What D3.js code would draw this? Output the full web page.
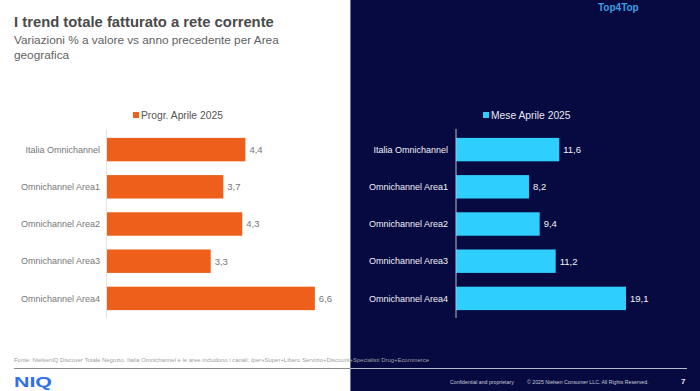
<!DOCTYPE html>
<html><head><meta charset="utf-8">
<script src="https://cdn.jsdelivr.net/npm/d3@7"></script>
<style>
html,body{margin:0;padding:0;background:#fff;}
svg{display:block;font-family:"Liberation Sans",Arial,sans-serif;}
</style></head>
<body><svg id="c" width="700" height="391"></svg>
<script>
const categories = ["Italia Omnichannel","Omnichannel Area1","Omnichannel Area2","Omnichannel Area3","Omnichannel Area4"];
const progrValues = [4.4, 3.7, 4.3, 3.3, 6.6];
const meseValues = [11.6, 8.2, 9.4, 11.2, 19.1];
const seriesNames = ["Progr. Aprile 2025", "Mese Aprile 2025"];
const title = "I trend totale fatturato a rete corrente";
const subtitleLines = ["Variazioni % a valore vs anno precedente per Area", "geografica"];
const sourceText = "Fonte: NielsenIQ Discover Totale Negozio. Italia Omnichannel e le aree includono i canali: Iper+Super+Libero Servizio+Discount+Specialisti Drug+Ecommerce";

const fmt = v => d3.format(".1f")(v).replace(".", ",");
const svg = d3.select("#c");

// dark right panel
svg.append("rect").attr("x",350).attr("y",0).attr("width",350).attr("height",391).attr("fill","#060a40");
svg.append("line").attr("x1",350.5).attr("x2",350.5).attr("y1",0).attr("y2",391).attr("stroke","#6c6f9a").attr("stroke-width",1);

// titles
svg.append("text").attr("x",14).attr("y",27).attr("font-size",14.8).attr("font-weight","bold").attr("fill","#4a4a4a").text(title);
subtitleLines.forEach((t,i)=>svg.append("text").attr("x",14).attr("y",44+i*14.5).attr("font-size",11.8).attr("fill","#5f5f5f").text(t));
svg.append("text").attr("x",598).attr("y",11).attr("font-size",10).attr("font-weight","bold").attr("fill","#3a9ee0").text("Top4Top");

function panel(values, name, xRange, domainMax, axisX, labelX, color, textColor, labelColor, axisColor, legendX){
  const y = d3.scaleBand().domain(categories).range([131,317]).paddingInner(0.37).paddingOuter(0.185);
  const x = d3.scaleLinear().domain([0,domainMax]).range(xRange);
  const g = svg.append("g");
  // legend
  g.append("rect").attr("x",legendX).attr("y",112).attr("width",6).attr("height",6).attr("fill",color);
  g.append("text").attr("x",legendX+8).attr("y",119).attr("font-size",10.3).attr("fill",textColor).text(name);
  // bars
  g.selectAll("rect.bar").data(values).join("rect").attr("class","bar")
    .attr("x",x(0)).attr("y",(d,i)=>y(categories[i])).attr("width",d=>x(d)-x(0)).attr("height",y.bandwidth()).attr("fill",color);
  // axis line
  g.append("line").attr("x1",axisX).attr("x2",axisX).attr("y1",129).attr("y2",318).attr("stroke",axisColor).attr("stroke-width",1);
  // category labels
  g.selectAll("text.cat").data(categories).join("text").attr("class","cat")
    .attr("x",labelX).attr("y",d=>y(d)+y.bandwidth()/2+3.2).attr("text-anchor","end").attr("font-size",9).attr("fill",labelColor).text(d=>d);
  // value labels
  g.selectAll("text.val").data(values).join("text").attr("class","val")
    .attr("x",d=>x(d)+4).attr("y",(d,i)=>y(categories[i])+y.bandwidth()/2+3.3).attr("font-size",9.5).attr("fill",labelColor).text(d=>fmt(d));
}
panel(progrValues, seriesNames[0], [106.5,327.5], 7, 106.5, 100, "#ee5f1b", "#555555", "#777777", "#e3e3e3", 133);
panel(meseValues, seriesNames[1], [456,634], 20, 456, 448, "#2ecfff", "#e8e8f2", "#f2f2f7", "#b9bbd0", 483);

// footer
svg.append("text").attr("x",14).attr("y",362).attr("font-size",5.8).attr("fill","#a0a0a0").attr("textLength",415).attr("lengthAdjust","spacingAndGlyphs").text(sourceText);
svg.append("line").attr("x1",14).attr("x2",350).attr("y1",368.5).attr("y2",368.5).attr("stroke","#8a8a8a").attr("stroke-width",1);
svg.append("line").attr("x1",350).attr("x2",687).attr("y1",368.5).attr("y2",368.5).attr("stroke","#b8bad0").attr("stroke-width",1);
svg.append("text").attr("x",14).attr("y",387).attr("font-size",14.5).attr("font-weight","bold").attr("fill","#2f6fe8").attr("textLength",38).attr("lengthAdjust","spacingAndGlyphs").text("NIQ");
svg.append("text").attr("x",450).attr("y",384).attr("font-size",5.2).attr("fill","#c8c9da").text("Confidential and proprietary");
svg.append("text").attr("x",527).attr("y",384).attr("font-size",5.2).attr("fill","#c8c9da").text("© 2025 Nielsen Consumer LLC. All Rights Reserved.");
svg.append("text").attr("x",681).attr("y",384).attr("font-size",8).attr("font-weight","bold").attr("fill","#e8e8f2").text("7");
</script></body></html>
